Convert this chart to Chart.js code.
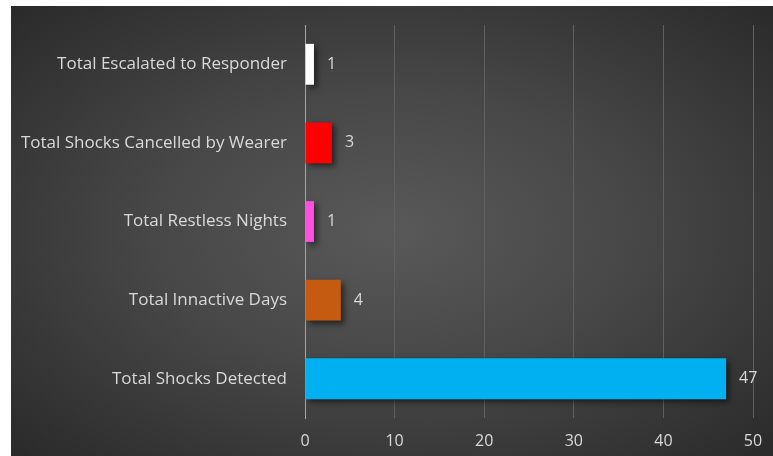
<!DOCTYPE html>
<html>
<head>
<meta charset="utf-8">
<script src="https://cdn.jsdelivr.net/npm/chart.js@4"></script>
<style>
  html, body { margin: 0; padding: 0; background: #fff; }
  #wrap {
    position: absolute; left: 11px; top: 6px; width: 762px; height: 450px;
    background: radial-gradient(ellipse at 50% 50%, #595959 0%, #474747 45%, #2a2a2a 100%);
  }
</style>
</head>
<body>
<div id="wrap"><canvas id="c" width="762" height="450"></canvas></div>
<script>
var categories = [
  "Total Escalated to Responder",
  "Total Shocks Cancelled by Wearer",
  "Total Restless Nights",
  "Total Innactive Days",
  "Total Shocks Detected"
];
var values = [1, 3, 1, 4, 47];
var barColors = ["#ffffff", "#ff0000", "#ff4fe3", "#c55a11", "#00b0f0"];
var xTicks = [0, 10, 20, 30, 40, 50];

var labelColor = "#d9d9d9";
var fontName = "'Open Sans'";

// shadow under the bars, like the excel one
var barShadow = {
  id: "barShadow",
  beforeDatasetDraw: function (chart) {
    var ctx = chart.ctx;
    ctx.save();
    ctx.shadowColor = "rgba(0,0,0,0.55)";
    ctx.shadowBlur = 6;
    ctx.shadowOffsetX = 3;
    ctx.shadowOffsetY = 3;
  },
  afterDatasetDraw: function (chart) {
    chart.ctx.restore();
  }
};

// value labels at the end of each bar
var valueLabels = {
  id: "valueLabels",
  afterDatasetsDraw: function (chart) {
    var ctx = chart.ctx;
    var meta = chart.getDatasetMeta(0);
    ctx.save();
    ctx.fillStyle = labelColor;
    ctx.font = "16px " + fontName;
    ctx.textAlign = "left";
    ctx.textBaseline = "middle";
    meta.data.forEach(function (bar, i) {
      ctx.fillText(String(values[i]), bar.x + 13, bar.y);
    });
    ctx.restore();
  }
};

new Chart(document.getElementById("c"), {
  type: "bar",
  data: {
    labels: categories,
    datasets: [{
      data: values,
      backgroundColor: barColors,
      borderWidth: 0,
      barPercentage: 0.52,
      categoryPercentage: 1
    }]
  },
  options: {
    indexAxis: "y",
    responsive: false,
    animation: false,
    layout: { padding: { left: 0, right: 20, top: 19, bottom: 0 } },
    plugins: {
      legend: { display: false },
      tooltip: { enabled: false }
    },
    scales: {
      x: {
        min: 0,
        max: 50,
        afterBuildTicks: function (axis) {
          axis.ticks = xTicks.map(function (v) { return { value: v }; });
        },
        afterFit: function (axis) {
          axis.height = 38;
          axis.paddingRight = 0;
          axis.paddingLeft = 0;
        },
        grid: { color: "#606060", lineWidth: 1, drawTicks: false },
        border: { display: false },
        ticks: { color: labelColor, font: { family: fontName, size: 16 }, padding: 14 }
      },
      y: {
        afterFit: function (axis) {
          axis.width = 294;
          axis.paddingTop = 0;
          axis.paddingBottom = 0;
        },
        grid: { display: false, drawTicks: false },
        border: { display: true, color: "#a6a6a6", width: 1 },
        ticks: { color: labelColor, font: { family: fontName, size: 17 }, padding: 18 }
      }
    }
  },
  plugins: [barShadow, valueLabels]
});
</script>
</body>
</html>
